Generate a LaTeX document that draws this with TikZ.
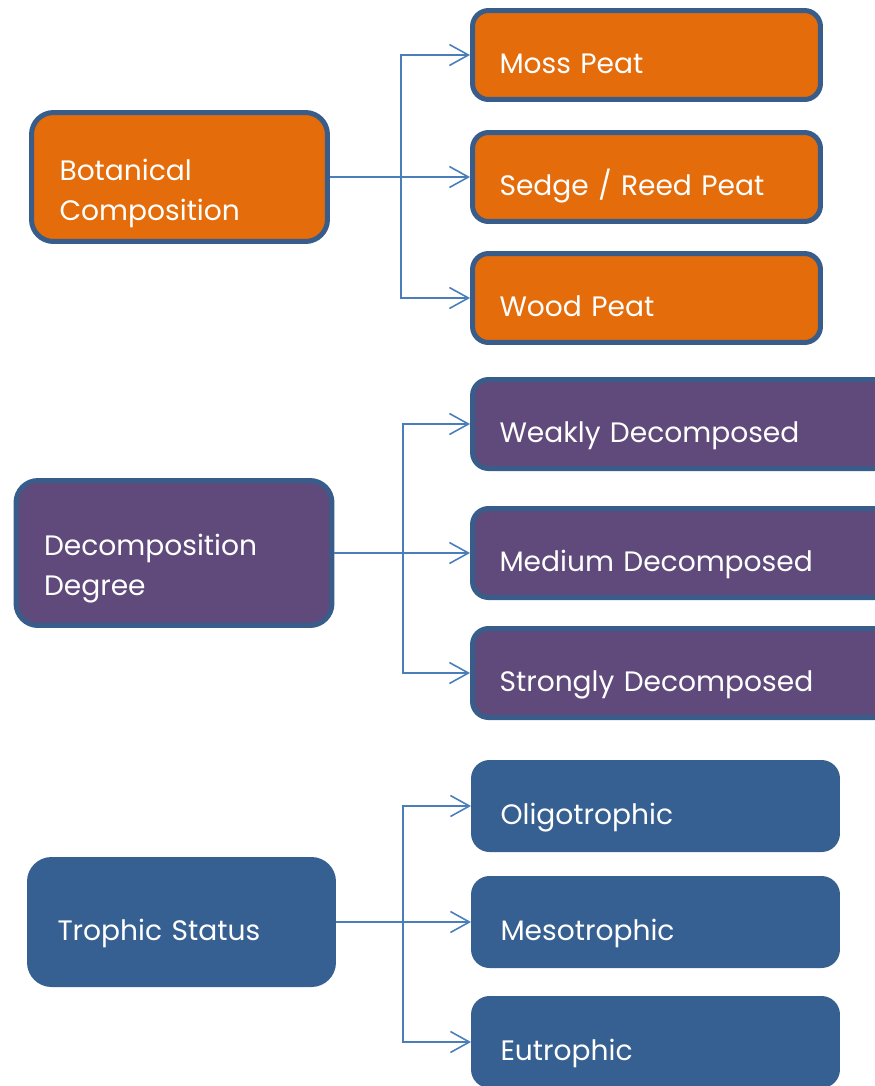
\documentclass[tikz,border=0pt]{standalone}
\usepackage{fontspec}
\setmainfont{Poppins}
\usetikzlibrary{arrows.meta}

\definecolor{peatorange}{HTML}{E46C0A}
\definecolor{peatpurple}{HTML}{604A7B}
\definecolor{peatblue}{HTML}{376092}
\definecolor{rimblue}{HTML}{385D8A}
\definecolor{linkblue}{HTML}{4A7EBB}

\begin{document}
\begin{tikzpicture}[x=0.02cm, y=-0.02cm, >={Straight Barb[length=0.38cm, width=0.42cm]},
    box/.style={draw=rimblue, line width=0.1cm, text=white, align=left, inner ysep=0pt,
        font=\fontsize{16pt}{23pt}\selectfont},
    leaf/.style={box, rounded corners=0.32cm, inner xsep=0.54cm, minimum height=1.78cm,
        text height=0.72cm, text depth=0cm},
    root/.style={box, rounded corners=0.44cm, inner xsep=0.56cm},
    link/.style={->, linkblue, line width=0.9pt}]
    % Frame
    \useasboundingbox (0,0) rectangle (875,1086);
    \clip (0,0) rectangle (875,1086);

    % Bus columns
    \coordinate (busA) at (401,0);
    \coordinate (busB) at (403,0);
    \coordinate (busC) at (403,0);

    % Botanical composition
    \node[root, fill=peatorange, text width=4.8cm, minimum height=2.58cm,
        text height=0.6cm, text depth=0.48cm] (bc) at (179.5,177) {Botanical\\Composition};
    \node[leaf, fill=peatorange, text width=5.88cm] (moss) at (646.5,55) {Moss Peat};
    \node[leaf, fill=peatorange, text width=5.88cm] (sedge) at (646.5,177) {Sedge / Reed Peat};
    \node[leaf, fill=peatorange, text width=5.88cm] (wood) at (646.5,298) {Wood Peat};

    % Decomposition degree
    \node[root, fill=peatpurple, text width=5.2cm, minimum height=2.9cm,
        text height=0.6cm, text depth=0.52cm] (dd) at (174,553) {Decomposition\\Degree};
    \node[leaf, fill=peatpurple, text width=7.52cm] (weak) at (687.5,424) {Weakly Decomposed};
    \node[leaf, fill=peatpurple, text width=7.52cm] (medium) at (687.5,553) {Medium Decomposed};
    \node[leaf, fill=peatpurple, text width=7.52cm] (strong) at (687.5,673) {Strongly Decomposed};

    % Trophic status
    \node[root, fill=peatblue, draw=peatblue, text width=4.96cm, minimum height=2.5cm,
        text height=0.72cm, text depth=0cm] (ts) at (181.5,922) {Trophic Status};
    \node[leaf, fill=peatblue, draw=peatblue, text width=6.2cm, minimum height=1.74cm] (oligo) at (655.5,806) {Oligotrophic};
    \node[leaf, fill=peatblue, draw=peatblue, text width=6.2cm, minimum height=1.74cm] (meso) at (655.5,922) {Mesotrophic};
    \node[leaf, fill=peatblue, draw=peatblue, text width=6.2cm, minimum height=1.74cm] (eu) at (655.5,1042) {Eutrophic};

    % Connectors
    \draw[link] (bc.east) -- (sedge.west);
    \draw[link] (bc.east -| busA) |- (moss.west);
    \draw[link] (bc.east -| busA) |- (wood.west);

    \draw[link] (dd.east) -- (medium.west);
    \draw[link] (dd.east -| busB) |- (weak.west);
    \draw[link] (dd.east -| busB) |- (strong.west);

    \draw[link] (ts.east) -- (meso.west);
    \draw[link] (ts.east -| busC) |- (oligo.west);
    \draw[link] (ts.east -| busC) |- (eu.west);
\end{tikzpicture}
\end{document}
